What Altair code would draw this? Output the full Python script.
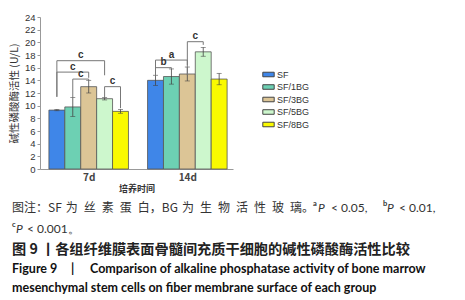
import altair as alt
import pandas as pd

groups = ["7d", "14d"]
series = ["SF", "SF/1BG", "SF/3BG", "SF/5BG", "SF/8BG"]
colors = ["#3f86e8", "#6dd0b3", "#dcc596", "#cdf7cd", "#fafa00"]
means_7d = [9.3, 9.8, 13.0, 11.1, 9.1]
err_7d = [0.1, 1.5, 1.0, 0.2, 0.3]
means_14d = [14.0, 14.6, 15.0, 18.5, 14.2]
err_14d = [0.8, 1.2, 1.1, 0.7, 0.9]
y_ticks = list(range(0, 25, 2))

# significance brackets: group, from-series, to-series, top, left leg end, right leg end, label
br_group = ["7d", "7d", "7d", "7d", "14d", "14d", "14d"]
br_from = [0, 0, 1, 3, 0, 0, 2]
br_to = [3, 2, 2, 4, 2, 1, 3]
br_top = [17.1, 15.3, 14.2, 13.0, 17.2, 16.0, 20.1]
br_lbot = [11.4, 11.4, 11.3, 11.3, 15.8, 14.8, 16.4]
br_rbot = [14.8, 14.4, 14.0, 9.6, 14.8, 15.8, 19.6]
br_label = ["c", "c", "c", "c", "a", "b", "c"]

GAP = 6.2  # group spacing in bar units
gpos = {g: i * GAP for i, g in enumerate(groups)}

rows = []
for g, means, errs in [("7d", means_7d, err_7d), ("14d", means_14d, err_14d)]:
    for i, s in enumerate(series):
        p = gpos[g] + i
        rows.append({"group": g, "series": s, "mean": means[i], "lo": means[i] - errs[i],
                     "hi": means[i] + errs[i], "x0": p - 0.5, "x1": p + 0.5, "xc": p})
df = pd.DataFrame(rows)

hseg, vseg, lab = [], [], []
for g, a, b, t, lb, rb, l in zip(br_group, br_from, br_to, br_top, br_lbot, br_rbot, br_label):
    xa, xb = gpos[g] + a, gpos[g] + b
    hseg.append({"xa": xa, "xb": xb, "y": t})
    vseg.append({"x": xa, "y1": lb, "y2": t})
    vseg.append({"x": xb, "y1": rb, "y2": t})
    lab.append({"x": (xa + xb) / 2, "y": t, "t": l})
hdf, vdf, ldf = pd.DataFrame(hseg), pd.DataFrame(vseg), pd.DataFrame(lab)

xdom = [-1.06, 11.07]
xs = alt.Scale(domain=xdom, nice=False, zero=False)
ys = alt.Scale(domain=[0, 24], nice=False)
centers = [gpos[g] + 2 for g in groups]
label_expr = "datum.value < 5 ? '7d' : '14d'"

xaxis = alt.Axis(values=centers, labelExpr=label_expr, title="培养时间",
                 ticks=False, domainColor="#999999", labelFont="Noto Sans CJK SC",
                 labelFontSize=10, labelFontWeight="bold", labelColor="#444444", labelPadding=3,
                 titleFont="Noto Sans CJK SC", titleFontSize=9, titleFontWeight="bold",
                 titleColor="#333333", titlePadding=2, grid=False)
yaxis = alt.Axis(values=y_ticks, title="碱性磷酸酶活性 (U/L)", grid=False, labelOverlap=False,
                 domainColor="#999999", tickColor="#999999", tickSize=3,
                 labelFont="Liberation Sans", labelFontSize=9.5, labelColor="#333333",
                 labelPadding=2, titleFont="Noto Sans CJK SC", titleFontSize=10.5,
                 titleFontWeight="normal", titleColor="#333333", titlePadding=5)

base = alt.Chart(df)
bars = base.mark_rect(stroke="#555555", strokeWidth=0.8).encode(
    x=alt.X("x0:Q", scale=xs, axis=xaxis),
    x2="x1:Q",
    y=alt.Y("mean:Q", scale=ys, axis=yaxis),
    y2=alt.datum(0),
    color=alt.Color("series:N", scale=alt.Scale(domain=series, range=colors),
                    legend=alt.Legend(title=None, orient="none", legendX=222, legendY=51,
                                      symbolType="M-1,-0.4L1,-0.4L1,0.4L-1,0.4Z", symbolSize=130,
                                      symbolStrokeColor="#444444", symbolStrokeWidth=1,
                                      labelFont="Liberation Sans", labelFontSize=9, labelColor="#333333",
                                      rowPadding=0.5, labelOffset=2, symbolOpacity=1)),
)
errbar = base.mark_rule(color="#444444", strokeWidth=0.8).encode(
    x=alt.X("xc:Q", scale=xs, axis=xaxis), y=alt.Y("lo:Q", scale=ys, axis=yaxis), y2="hi:Q")
capl = base.mark_tick(color="#444444", thickness=0.8, size=5, orient="horizontal").encode(
    x=alt.X("xc:Q", scale=xs, axis=xaxis), y=alt.Y("lo:Q", scale=ys, axis=yaxis))
caph = base.mark_tick(color="#444444", thickness=0.8, size=5, orient="horizontal").encode(
    x=alt.X("xc:Q", scale=xs, axis=xaxis), y=alt.Y("hi:Q", scale=ys, axis=yaxis))

hl = alt.Chart(hdf).mark_rule(color="#777777", strokeWidth=1).encode(
    x=alt.X("xa:Q", scale=xs, axis=xaxis), x2="xb:Q", y=alt.Y("y:Q", scale=ys, axis=yaxis))
vl = alt.Chart(vdf).mark_rule(color="#777777", strokeWidth=1).encode(
    x=alt.X("x:Q", scale=xs, axis=xaxis), y=alt.Y("y1:Q", scale=ys, axis=yaxis), y2="y2:Q")
tl = alt.Chart(ldf).mark_text(font="Liberation Sans", fontSize=10, fontWeight="bold", color="#333333",
                              baseline="bottom", dy=-0.5).encode(
    x=alt.X("x:Q", scale=xs, axis=xaxis), y=alt.Y("y:Q", scale=ys, axis=yaxis), text="t:N")

# caption pieces (x, y relative to the plot origin)
S = "\u2002"
T = "\u2004"
cap1 = ("图注：SF" + T + "为" + S + "丝" + S + "素" + S + "蛋" + S + "白，BG" + T + "为" + S + "生" + S + "物" + S
        + "活" + S + "性" + S + "玻" + S + "璃。")
CJK, LAT = "Noto Sans CJK SC", "Lato"
caps = [
    (cap1, -28, 191, CJK, 12, "normal", "normal", "#333333"),
    ("a", 273, 187, LAT, 7.5, "bold", "normal", "#333333"),
    ("P", 278, 191, LAT, 12, "normal", "italic", "#333333"),
    ("< 0.05,", 291, 191, LAT, 12, "normal", "normal", "#333333"),
    ("b", 343, 187, LAT, 7.5, "bold", "normal", "#333333"),
    ("P", 347, 191, LAT, 12, "normal", "italic", "#333333"),
    ("< 0.01,", 359, 191, LAT, 12, "normal", "normal", "#333333"),
    ("c", -28, 208, LAT, 7.5, "bold", "normal", "#333333"),
    ("P", -24, 212, LAT, 12, "normal", "italic", "#333333"),
    ("< 0.001。", -13, 212, LAT, 12, "normal", "normal", "#333333"),
    ("图 9 丨各组纤维膜表面骨髓间充质干细胞的碱性磷酸酶活性比较", -28, 233, CJK, 14.2, "bold", "normal", "#222222"),
    ("Figure 9", -28, 252, LAT, 12.5, "bold", "normal", "#111111"),
    ("|", 31, 252, LAT, 12.5, "bold", "normal", "#111111"),
    ("Comparison of alkaline phosphatase activity of bone marrow", 50, 252, LAT, 12.5, "bold", "normal", "#111111"),
    ("mesenchymal stem cells on fiber membrane surface of each group", -28, 271, LAT, 12.5, "bold", "normal", "#111111"),
]
cap_layers = []
for txt, xx, yy, font, fs, fw, fst, col in caps:
    cap_layers.append(
        alt.Chart(pd.DataFrame({"t": [txt]})).mark_text(
            align="left", baseline="middle", font=font, fontSize=fs, fontWeight=fw, fontStyle=fst, color=col
        ).encode(x=alt.value(xx), y=alt.value(yy), text="t:N")
    )

chart = alt.layer(bars, errbar, capl, caph, hl, vl, tl, *cap_layers).properties(
    width=193, height=152, autosize="none",
    padding={"left": 40, "top": 17, "right": 232, "bottom": 131},
    background="white",
).configure_view(stroke=None)

chart.save("out.html", embed_options={"renderer": "svg", "actions": False})
